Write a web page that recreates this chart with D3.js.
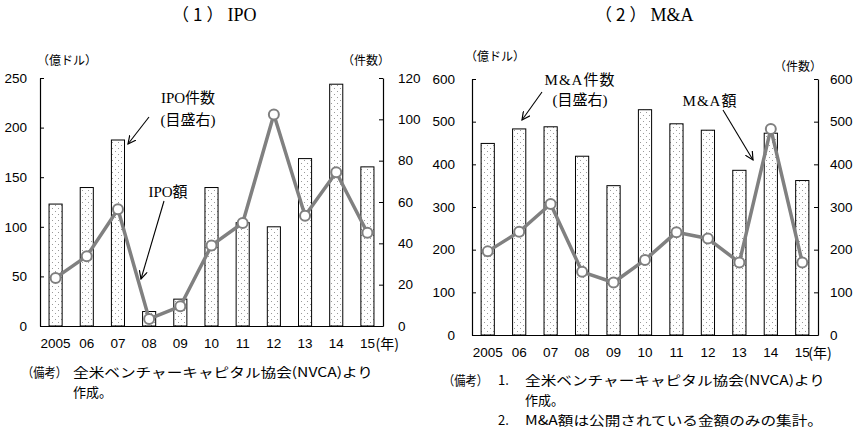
<!DOCTYPE html>
<html>
<head>
<meta charset="utf-8">
<script src="https://cdn.jsdelivr.net/npm/d3@7"></script>
<style>
  body { margin: 0; background: #fff; }
  .tick text { font-family: "Liberation Sans", Arial, sans-serif; font-size: 13.5px; fill: #000; }
  .serif { font-family: "Liberation Serif", "Noto Sans CJK JP", serif; fill: #000; }
  .jp { font-family: "Noto Sans CJK JP", sans-serif; fill: #000; }
</style>
</head>
<body>
<div id="chart"></div>
<script>
// values
const years = ["2005", "06", "07", "08", "09", "10", "11", "12", "13", "14", "15"];

const ipoCount = [59, 67, 90, 7, 13, 67, 50, 48, 81, 117, 77];              // right axis, 件数
const ipoAmount = [48.5, 70.4, 117.6, 7.1, 19.9, 81.2, 103.8, 213.3, 111.2, 155, 94]; // left axis, 億ドル

const maCount = [449, 483, 488, 419, 350, 528, 495, 480, 386, 473, 362];
const maAmount = [196, 242, 307, 148, 123, 176, 241, 226, 170, 483, 170];

const ipoLeftTicks = [0, 50, 100, 150, 200, 250];
const ipoRightTicks = [0, 20, 40, 60, 80, 100, 120];
const maTicks = [0, 100, 200, 300, 400, 500, 600];

const W = 860, H = 430;
const lineColor = "#808080";

const svg = d3.select("#chart").append("svg")
  .attr("width", W).attr("height", H)
  .attr("viewBox", "0 0 " + W + " " + H);

// dotted fill of the bars
const pat = svg.append("defs").append("pattern")
  .attr("id", "dots").attr("patternUnits", "userSpaceOnUse")
  .attr("width", 6).attr("height", 6);
pat.append("rect").attr("width", 6).attr("height", 6).attr("fill", "#fff");
pat.append("rect").attr("x", 1).attr("y", 1).attr("width", 1).attr("height", 1).attr("fill", "#9a9a9a");
pat.append("rect").attr("x", 4).attr("y", 4).attr("width", 1).attr("height", 1).attr("fill", "#9a9a9a");

const mk = svg.select("defs").append("marker")
  .attr("id", "arr").attr("viewBox", "0 0 10 10")
  .attr("refX", 9).attr("refY", 5)
  .attr("markerWidth", 9).attr("markerHeight", 9)
  .attr("markerUnits", "userSpaceOnUse")
  .attr("orient", "auto");
mk.append("path").attr("d", "M0,0.5 L9,5 L0,9.5").attr("fill", "none").attr("stroke", "#000").attr("stroke-width", 1.3);

function panel(p) {
  const g = svg.append("g");

  const x = d3.scaleBand()
    .domain(years)
    .range([p.x0, p.x1])
    .paddingInner(0.58)
    .paddingOuter(0.29);

  const yL = d3.scaleLinear().domain([0, p.leftMax]).range([p.y1, p.y0]);
  const yR = d3.scaleLinear().domain([0, p.rightMax]).range([p.y1, p.y0]);

  // bars (right scale)
  g.append("g").selectAll("rect")
    .data(p.counts)
    .enter().append("rect")
    .attr("x", (d, i) => x(years[i]))
    .attr("y", d => yR(d))
    .attr("width", x.bandwidth())
    .attr("height", d => yR(0) - yR(d))
    .attr("fill", "url(#dots)")
    .attr("stroke", "#000")
    .attr("stroke-width", 1);

  // axes
  const ax = g.append("g")
    .attr("transform", "translate(0," + p.y1 + ")")
    .call(d3.axisBottom(x).tickSize(0).tickSizeOuter(0).tickPadding(12));
  ax.select(".domain").attr("stroke", "#000").attr("stroke-width", 1.2);

  g.append("g")
    .attr("transform", "translate(" + p.x0 + ",0)")
    .call(d3.axisLeft(yL).tickValues(p.leftTicks).tickSizeInner(-4).tickSizeOuter(0).tickPadding(p.leftPad))
    .call(a => a.select(".domain").attr("stroke-width", 1.2));

  g.append("g")
    .attr("transform", "translate(" + p.x1 + ",0)")
    .call(d3.axisRight(yR).tickValues(p.rightTicks).tickSizeInner(-4).tickSizeOuter(0).tickPadding(p.rightPad))
    .call(a => a.select(".domain").attr("stroke-width", 1.2));

  g.append("text").attr("class", "jp")
    .attr("x", x(years[years.length - 1]) + x.bandwidth() / 2 + p.yearDx)
    .attr("y", p.y1 + 12).attr("dy", "0.75em")
    .attr("font-size", 14)
    .text("(年)");

  // line (left scale)
  const line = d3.line()
    .x((d, i) => x(years[i]) + x.bandwidth() / 2)
    .y(d => yL(d));

  g.append("path")
    .datum(p.amounts)
    .attr("d", line)
    .attr("fill", "none")
    .attr("stroke", lineColor)
    .attr("stroke-width", 3.5)
    .attr("stroke-linejoin", "round");

  g.append("g").selectAll("circle")
    .data(p.amounts)
    .enter().append("circle")
    .attr("cx", (d, i) => x(years[i]) + x.bandwidth() / 2)
    .attr("cy", d => yL(d))
    .attr("r", 5)
    .attr("fill", "#fff")
    .attr("stroke", lineColor)
    .attr("stroke-width", 2);

  // unit labels
  g.append("text").attr("class", "jp").attr("font-size", 12)
    .attr("x", p.unitL[0]).attr("y", p.unitL[1]).attr("dy", "0.35em")
    .attr("text-anchor", "middle").text("（億ドル）");
  g.append("text").attr("class", "jp").attr("font-size", 12)
    .attr("x", p.unitR[0]).attr("y", p.unitR[1]).attr("dy", "0.35em")
    .attr("text-anchor", "middle").text("（件数）");

  // title
  const t = g.append("text")
    .attr("x", p.title[0]).attr("y", p.title[1]).attr("dy", "0.35em");
  t.append("tspan").attr("class", "jp").attr("font-size", 17).attr("letter-spacing", 4).text(p.title[2]);
  t.append("tspan").attr("class", "serif").attr("font-size", 18).text(p.title[3]);

  // annotations
  p.notes.forEach(n => {
    g.append("text").attr("class", "serif").attr("font-size", 15)
      .attr("x", n[0]).attr("y", n[1]).attr("dy", "0.35em")
      .attr("text-anchor", "middle").attr("letter-spacing", n[3] || 0).text(n[2]);
  });
  p.arrows.forEach(a => {
    g.append("line")
      .attr("x1", a[0]).attr("y1", a[1]).attr("x2", a[2]).attr("y2", a[3])
      .attr("stroke", "#000").attr("stroke-width", 1.1)
      .attr("marker-end", "url(#arr)");
  });

  // 備考
  p.remarks.forEach(r => {
    g.append("text").attr("class", "jp").attr("font-size", 13)
      .attr("x", r[0]).attr("y", r[1]).attr("dy", "0.35em")
      .attr("textLength", r[3] || null)
      .attr("lengthAdjust", "spacingAndGlyphs")
      .text(r[2]);
  });
}

panel({
  x0: 40, x1: 383, y0: 78, y1: 326,
  leftMax: 250, rightMax: 120,
  leftTicks: ipoLeftTicks, rightTicks: ipoRightTicks,
  counts: ipoCount, amounts: ipoAmount,
  leftPad: 13, rightPad: 15, yearDx: 8,
  unitL: [67, 61], unitR: [366, 61],
  title: [172, 15, "（1）", "IPO"],
  notes: [[188, 98, "IPO件数"], [188, 120, "(目盛右)"], [168, 192, "IPO額"]],
  arrows: [[149, 117, 128, 144], [164, 201, 141, 279]],
  remarks: [[22, 372, "（備考）", 45], [73, 372, "全米ベンチャーキャピタル協会(NVCA)より", 300], [73, 392, "作成。"]]
});

panel({
  x0: 472, x1: 818, y0: 79, y1: 335,
  leftMax: 600, rightMax: 600,
  leftTicks: maTicks, rightTicks: maTicks,
  counts: maCount, amounts: maAmount,
  leftPad: 17, rightPad: 12, yearDx: 6,
  unitL: [495, 57], unitR: [798, 67],
  title: [595, 15, "（2）", "M&A"],
  notes: [[580, 80, "M&A件数", 1], [580, 100, "(目盛右)"], [710, 101, "M&A額", 1]],
  arrows: [[542, 92, 522, 120], [723, 110, 753, 160]],
  remarks: [[443, 380, "（備考）", 45], [498, 380, "1."], [525, 380, "全米ベンチャーキャピタル協会(NVCA)より", 300],
            [525, 400, "作成。"], [498, 420, "2."], [525, 420, "M&A額は公開されている金額のみの集計。", 298]]
});
</script>
</body>
</html>
